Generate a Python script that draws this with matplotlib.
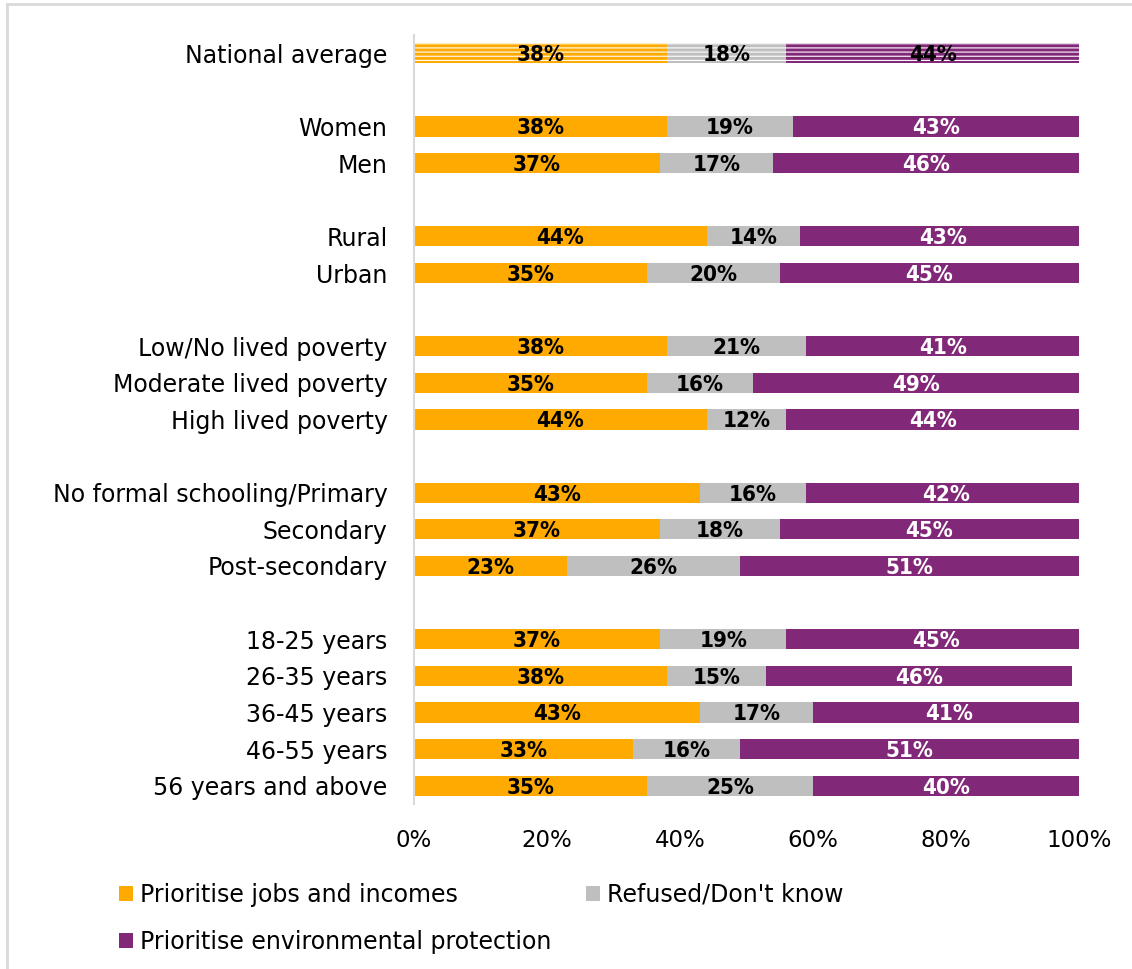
import matplotlib
matplotlib.use("Agg")
import matplotlib.pyplot as plt
from matplotlib.patches import Patch
from matplotlib.lines import Line2D

# row labels; None marks an empty spacer row between groups
categories = ["National average", None,
              "Women", "Men", None,
              "Rural", "Urban", None,
              "Low/No lived poverty", "Moderate lived poverty", "High lived poverty", None,
              "No formal schooling/Primary", "Secondary", "Post-secondary", None,
              "18-25 years", "26-35 years", "36-45 years", "46-55 years", "56 years and above"]

jobs = [38, None, 38, 37, None, 44, 35, None, 38, 35, 44, None, 43, 37, 23, None, 37, 38, 43, 33, 35]
refused = [18, None, 19, 17, None, 14, 20, None, 21, 16, 12, None, 16, 18, 26, None, 19, 15, 17, 16, 25]
environment = [44, None, 43, 46, None, 43, 45, None, 41, 49, 44, None, 42, 45, 51, None, 45, 46, 41, 51, 40]

series_names = ["Prioritise jobs and incomes", "Refused/Don't know", "Prioritise environmental protection"]
colors = ["#FFAA00", "#BFBFBF", "#822878"]
xticks = [0, 20, 40, 60, 80, 100]

label_font = "DejaVu Sans"
plt.rcParams['hatch.linewidth'] = 0.8

fig = plt.figure(figsize=(11.32, 9.69), dpi=100)
ax = fig.add_axes([0.3657, 0.1703, 0.5875, 0.7936])

bar_h = 0.55
for i, cat in enumerate(categories):
    if cat is None:
        continue
    vals = [jobs[i], refused[i], environment[i]]
    left = 0
    for k, v in enumerate(vals):
        if i == 0:
            # the national row is striped
            ax.barh(i, v, left=left, height=bar_h, color=colors[k],
                    edgecolor="white", linewidth=0, hatch="----")
        else:
            ax.barh(i, v, left=left, height=bar_h, color=colors[k], linewidth=0)
        tc = "white" if (k == 2 and i != 0) else "black"
        ax.text(left + v / 2, i + 0.05, "%d%%" % v, ha="center", va="center",
                fontsize=16, fontweight="bold", family="DejaVu Sans",
                fontstretch="condensed", color=tc)
        left += v

ax.set_ylim(len(categories) - 0.5, -0.5)
ax.set_xlim(0, 100)
ypos = [i for i, c in enumerate(categories) if c is not None]
ax.set_yticks(ypos)
ax.set_yticklabels([c for c in categories if c is not None], fontsize=17, family=label_font)
ax.set_xticks(xticks)
ax.set_xticklabels(["%d%%" % t for t in xticks], fontsize=16.5, family=label_font)
ax.tick_params(axis="both", length=0)
ax.tick_params(axis="y", pad=19)
ax.tick_params(axis="x", pad=18)

for s in ["top", "right", "bottom"]:
    ax.spines[s].set_visible(False)
ax.spines["left"].set_color("#D9D9D9")
ax.spines["left"].set_linewidth(1.5)

# legend fills column-first, so reorder to read row-wise
order = [0, 2, 1]
handles = [Patch(facecolor=colors[j], edgecolor="none") for j in order]
fig.legend(handles, [series_names[j] for j in order], loc="upper left",
           bbox_to_anchor=(0.097, 0.099),
           ncol=2, frameon=False, prop={"family": label_font, "size": 17},
           handlelength=0.6, handleheight=0.6, handletextpad=0.3,
           columnspacing=1.45, labelspacing=1.0, borderaxespad=0)

# light frame on the left and top edges
fig.add_artist(Line2D([0.0062, 0.0062], [0, 0.9954], color="#D9D9D9", lw=2, transform=fig.transFigure))
fig.add_artist(Line2D([0.0062, 1.0], [0.9954, 0.9954], color="#D9D9D9", lw=2, transform=fig.transFigure))

fig.savefig("out.png", dpi=100)
